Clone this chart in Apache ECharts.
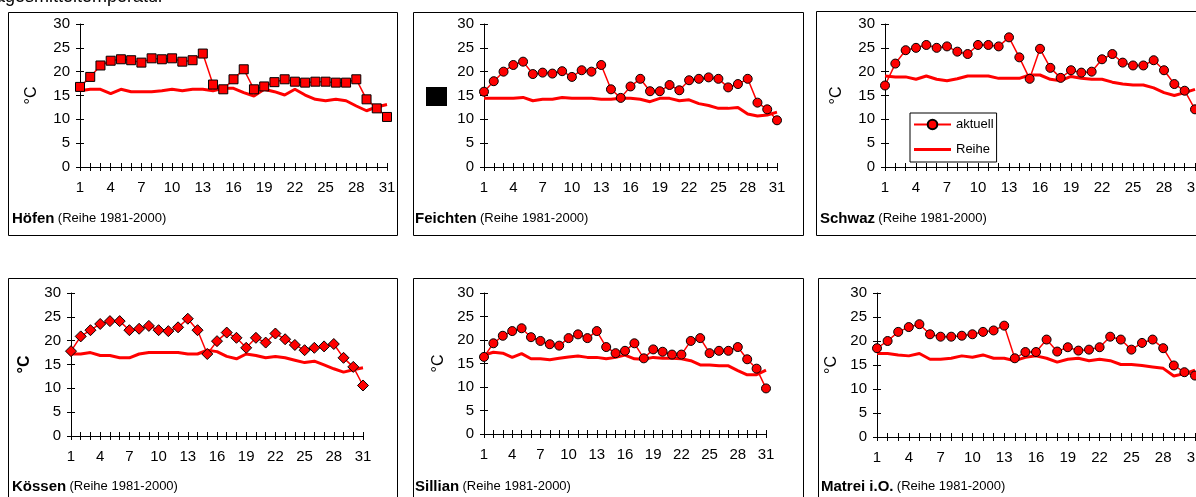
<!DOCTYPE html>
<html>
<head>
<meta charset="utf-8">
<script src="https://cdn.jsdelivr.net/npm/echarts@6/dist/echarts.min.js"></script>
<style>
html, body { margin: 0; padding: 0; background: #fff; }
#chart { width: 1196px; height: 497px; }
</style>
</head>
<body>
<div id="chart"></div>
<script>
// Tage im Monat
var days = ['1','2','3','4','5','6','7','8','9','10','11','12','13','14','15','16',
            '17','18','19','20','21','22','23','24','25','26','27','28','29','30','31'];
var yMin = 0, yMax = 30, yStep = 5;

var hoefenAktuell = [16.8,18.9,21.3,22.3,22.6,22.4,21.9,22.8,22.6,22.8,22.1,22.4,23.8,17.3,16.3,18.4,
                     20.5,16.3,16.9,17.8,18.4,17.9,17.7,17.9,17.9,17.7,17.7,18.4,14.2,12.3,10.5];
var hoefenReihe   = [16.0,16.3,16.3,15.4,16.3,15.8,15.8,15.8,16.0,16.3,16.0,16.3,16.3,16.0,16.5,16.5,
                     15.6,14.9,16.3,15.8,15.1,16.3,15.1,14.2,13.9,14.2,13.9,12.8,11.8,12.6,13.1];

var feichtenAktuell = [15.8,18.0,20.0,21.4,22.1,19.5,19.8,19.6,20.1,18.9,20.3,20.0,21.4,16.3,14.5,16.9,
                       18.5,15.9,15.9,17.2,16.1,18.2,18.5,18.8,18.5,16.7,17.4,18.5,13.5,12.1,9.8];
var feichtenReihe   = [14.4,14.4,14.4,14.4,14.6,13.9,14.2,14.2,14.6,14.4,14.4,14.4,14.2,14.2,14.4,14.4,
                       14.2,13.7,14.4,14.4,13.9,14.1,13.3,12.9,12.3,12.3,12.5,11.1,10.7,10.9,11.5];

var schwazAktuell = [17.1,21.7,24.5,25.0,25.6,25.0,25.3,24.2,23.7,25.6,25.6,25.3,27.2,23.0,18.5,24.8,
                     20.8,18.7,20.3,19.8,20.0,22.6,23.7,21.9,21.3,21.3,22.4,20.3,17.4,16.0,12.1];
var schwazReihe   = [19.1,18.9,18.9,18.4,19.1,18.4,18.1,18.5,19.1,19.1,19.1,18.6,18.6,18.6,19.3,19.3,
                     18.4,18.1,19.0,18.6,18.4,18.4,17.8,17.4,17.2,17.2,16.6,15.6,15.0,15.6,16.3];

var koessenAktuell = [17.8,20.9,22.2,23.5,24.1,24.1,22.2,22.5,23.1,22.2,22.0,22.8,24.6,22.2,17.2,19.9,
                      21.7,20.6,18.5,20.6,19.6,21.5,20.3,19.1,18.0,18.5,18.8,19.3,16.4,14.5,10.6];
var koessenReihe   = [17.2,17.2,17.5,16.9,16.9,16.4,16.4,17.2,17.5,17.5,17.5,17.5,17.2,17.2,18.0,17.7,
                      16.7,16.2,17.2,16.9,16.4,16.7,16.4,15.9,15.4,15.7,14.9,14.1,13.4,13.9,14.3];

var sillianAktuell = [16.4,19.3,20.9,21.9,22.5,20.6,19.8,19.1,18.8,20.4,21.2,20.4,21.9,18.5,17.2,17.7,
                      19.3,16.1,18.0,17.5,16.9,16.9,19.8,20.4,17.2,17.7,17.7,18.5,15.9,13.9,9.7];
var sillianReihe   = [16.8,17.4,17.2,16.3,17.1,16.0,16.0,15.8,16.1,16.4,16.6,16.3,16.3,16.0,16.3,16.8,
                      16.0,15.9,16.3,16.1,16.1,16.0,15.6,14.7,14.7,14.5,14.5,13.5,12.6,12.6,13.6];

var matreiAktuell = [18.5,20.0,21.9,22.9,23.5,21.4,20.9,20.9,21.1,21.4,21.9,22.2,23.2,16.4,17.7,17.7,
                     20.3,17.8,18.7,18.0,18.2,18.7,20.9,20.3,18.2,19.6,20.3,18.5,14.9,13.5,12.8];
var matreiReihe   = [17.4,17.4,17.1,16.9,17.4,16.2,16.2,16.4,16.9,16.6,17.1,16.4,16.4,15.9,16.6,16.9,
                     16.4,15.6,16.2,16.4,15.9,16.2,15.9,15.1,15.1,14.9,14.6,14.3,12.7,13.2,13.9];

var FONT = 'Liberation Sans, Arial, sans-serif';
var RED = '#ff0000';

// panels: station, data, marker, grid box, frame box, caption position
var panels = [
    {name:'Höfen',     akt:hoefenAktuell,   rei:hoefenReihe,   sym:'rect',    size:9,
     grid:[80,24,307,143],  box:[8,12,389,223],   cap:[12,220], unit:true, gap:40},
    {name:'Feichten',  akt:feichtenAktuell, rei:feichtenReihe, sym:'circle',  size:9,
     grid:[484,24,293,143], box:[413,12,390,223], cap:[415,220], unit:false, gap:40},
    {name:'Schwaz',    akt:schwazAktuell,   rei:schwazReihe,   sym:'circle',  size:9,
     grid:[885,24,310,143], box:[816,11,400,224], cap:[820,220], unit:true, gap:40, legend:true},
    {name:'Kössen',    akt:koessenAktuell,  rei:koessenReihe,  sym:'diamond', size:11,
     grid:[71,293,292,143], box:[8,278,389,240],  cap:[12,488], unit:true, gap:38, boldUnit:true},
    {name:'Sillian',   akt:sillianAktuell,  rei:sillianReihe,  sym:'circle',  size:9,
     grid:[484,293,282,141], box:[413,278,390,240], cap:[415,488], unit:true, gap:37},
    {name:'Matrei i.O.', akt:matreiAktuell, rei:matreiReihe,   sym:'circle',  size:9,
     grid:[877,293,318,144], box:[818,278,400,240], cap:[821,488], unit:true, gap:37}
];

var grids = [], xAxes = [], yAxes = [], series = [], graphics = [];

panels.forEach(function (p, i) {
    grids.push({left:p.grid[0], top:p.grid[1], width:p.grid[2], height:p.grid[3],
                containLabel:false, outerBoundsMode:'none'});

    // x axis with ticks outside + a twin with ticks inside (crossing ticks)
    xAxes.push({
        gridIndex:i, type:'category', data:days, boundaryGap:false, position:'bottom',
        axisLine:{show:true, onZero:false, lineStyle:{color:'#000', width:1}},
        axisTick:{show:true, interval:0, length:4, lineStyle:{color:'#000'}},
        axisLabel:{interval:2, color:'#000', fontSize:15, fontFamily:FONT, margin:13},
        splitLine:{show:false}
    });
    xAxes.push({
        gridIndex:i, type:'category', data:days, boundaryGap:false, position:'bottom',
        axisLine:{show:false, onZero:false},
        axisTick:{show:true, inside:true, interval:0, length:4, lineStyle:{color:'#000'}},
        axisLabel:{show:false}, splitLine:{show:false}
    });
    yAxes.push({
        gridIndex:i, type:'value', min:yMin, max:yMax, interval:yStep, position:'left',
        name: p.unit ? '°C' : '', nameLocation:'middle', nameGap:p.gap, nameRotate:90,
        nameTextStyle:{color:'#000', fontSize:16, fontFamily:FONT, fontWeight: p.boldUnit ? 'bold' : 'normal'},
        axisLine:{show:true, lineStyle:{color:'#000', width:1}},
        axisTick:{show:true, length:4, lineStyle:{color:'#000'}},
        axisLabel:{color:'#000', fontSize:15, fontFamily:FONT, margin:10},
        splitLine:{show:false}
    });
    yAxes.push({
        gridIndex:i, type:'value', min:yMin, max:yMax, interval:yStep, position:'left',
        axisLine:{show:false},
        axisTick:{show:true, inside:true, length:4, lineStyle:{color:'#000'}},
        axisLabel:{show:false}, splitLine:{show:false}
    });

    series.push({
        name: p.legend ? 'Reihe' : p.name + ' Reihe',
        type:'line', xAxisIndex:i*2, yAxisIndex:i*2, data:p.rei,
        symbol:'none', lineStyle:{color:RED, width:3}, itemStyle:{color:RED}, z:2
    });
    series.push({
        name: p.legend ? 'aktuell' : p.name + ' aktuell',
        type:'line', xAxisIndex:i*2, yAxisIndex:i*2, data:p.akt,
        symbol:p.sym, symbolSize:p.size, showSymbol:true, showAllSymbol:true,
        lineStyle:{color:RED, width:1.5},
        itemStyle:{color:RED, borderColor:'#000', borderWidth:1}, z:3
    });

    graphics.push({
        type:'rect', shape:{x:p.box[0]+0.5, y:p.box[1]+0.5, width:p.box[2], height:p.box[3]},
        style:{fill:null, stroke:'#000', lineWidth:1}, z:-1, silent:true
    });
    graphics.push({
        type:'text', left:p.cap[0], top:p.cap[1]-9, silent:true,
        style:{
            text:'{b|' + p.name + '} {n|(Reihe 1981-2000)}',
            rich:{
                b:{fontFamily:FONT, fontWeight:'bold', fontSize:15, fill:'#000'},
                n:{fontFamily:FONT, fontSize:13, fill:'#000'}
            }
        }
    });
});

// black patch beside Feichten
graphics.push({type:'rect', shape:{x:426, y:87, width:21, height:19}, style:{fill:'#000'}, silent:true});
// cut-off heading at the top edge
graphics.push({type:'text', left:-14, top:-12, silent:true,
    style:{text:'Tagesmitteltemperatur', fontFamily:FONT, fontSize:18, fill:'#000'}});

var chart = echarts.init(document.getElementById('chart'));
chart.setOption({
    animation:false,
    backgroundColor:'#fff',
    legend:{
        data:['aktuell', {name:'Reihe', icon:'path://M0,0L37,0L37,3L0,3Z'}],
        orient:'vertical', left:910, top:113,
        padding:[5,3,6,3], itemWidth:37, itemHeight:12, itemGap:12,
        borderColor:'#000', borderWidth:1, selectedMode:false,
        textStyle:{color:'#000', fontSize:13, fontFamily:FONT}
    },
    grid:grids,
    xAxis:xAxes,
    yAxis:yAxes,
    series:series,
    graphic:graphics
});
</script>
</body>
</html>
